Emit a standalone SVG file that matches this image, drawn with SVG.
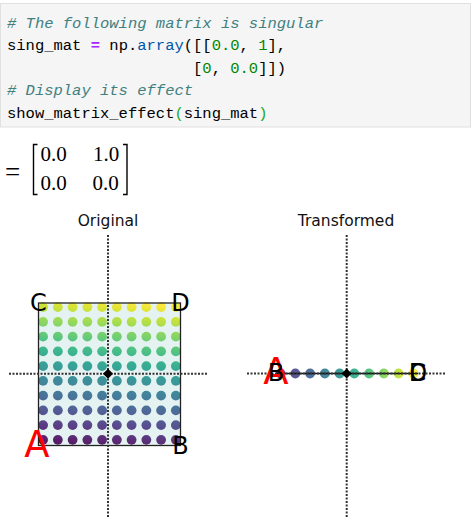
<svg xmlns="http://www.w3.org/2000/svg" width="472" height="532" viewBox="0 0 472 532">
<style>
.code{font-family:"Liberation Mono","DejaVu Sans Mono",monospace;font-size:15.5px;fill:#000;white-space:pre}
.cm{fill:#408080;font-style:italic}
.op{fill:#aa22ff;font-weight:bold}
.pr{fill:#0055aa}
.nu{fill:#008800}
.br{fill:#22aa22}
.math{font-family:"Liberation Serif","Times New Roman",serif;font-size:21px;fill:#000}
.title{font-family:"DejaVu Sans",sans-serif;font-size:15.5px;fill:#111;text-anchor:middle}
.lbl{font-family:"DejaVu Sans",sans-serif;font-size:24px;fill:#000;text-anchor:middle}
.lblA{font-family:"DejaVu Sans",sans-serif;font-size:37px;fill:#ff0000;text-anchor:middle}
.axis{stroke:#333;stroke-width:2;stroke-dasharray:2 1.5;fill:none}
.dotsL circle{fill:url(#virL);opacity:0.88}
.dotsR circle{fill:url(#virR);opacity:0.88}
</style>
<defs>
<linearGradient id="vir">
<stop offset="0" stop-color="#440154"/><stop offset="0.05" stop-color="#471365"/><stop offset="0.1" stop-color="#482475"/><stop offset="0.15" stop-color="#463480"/><stop offset="0.2" stop-color="#414487"/><stop offset="0.25" stop-color="#3b528b"/><stop offset="0.3" stop-color="#355f8d"/><stop offset="0.35" stop-color="#2f6c8e"/><stop offset="0.4" stop-color="#2a788e"/><stop offset="0.45" stop-color="#25848e"/><stop offset="0.5" stop-color="#21918c"/><stop offset="0.55" stop-color="#1e9c89"/><stop offset="0.6" stop-color="#22a884"/><stop offset="0.65" stop-color="#2fb47c"/><stop offset="0.7" stop-color="#44bf70"/><stop offset="0.75" stop-color="#5ec962"/><stop offset="0.8" stop-color="#7ad151"/><stop offset="0.85" stop-color="#9bd93c"/><stop offset="0.9" stop-color="#bddf26"/><stop offset="0.95" stop-color="#dfe318"/><stop offset="1" stop-color="#fde725"/>
</linearGradient>
<linearGradient id="virL" href="#vir" gradientUnits="userSpaceOnUse" x1="43.1" y1="439.85" x2="57.56" y2="295.27"/>
<linearGradient id="virR" href="#vir" gradientUnits="userSpaceOnUse" x1="267.3" y1="0" x2="413.4" y2="0"/>
<path id="dia" d="M0,-5 L5,0 L0,5 L-5,0 Z" fill="#000"/>
</defs>
<rect width="472" height="532" fill="#fff"/>

<g id="code">
<rect x="0.5" y="3.5" width="470" height="123.5" fill="#f5f5f5" stroke="#e0e0e0"/>
<text class="code cm" x="7" y="27.5"># The following matrix is singular</text>
<text class="code" x="7" y="50">sing_mat <tspan class="op">=</tspan> np.<tspan class="pr">array</tspan>([[<tspan class="nu">0.0</tspan>, <tspan class="nu">1</tspan>],</text>
<text class="code" x="193" y="72.5">[<tspan class="nu">0</tspan>, <tspan class="nu">0.0</tspan>]])</text>
<text class="code cm" x="7" y="95"># Display its effect</text>
<text class="code" x="7" y="117.5">show_matrix_effect<tspan class="br">(</tspan>sing_mat<tspan class="br">)</tspan></text>
</g>

<g id="matrix">
<text class="math" x="5" y="180.5" style="font-size:27px">=</text>
<path d="M37.5,144.5 H33.5 V194.5 H37.5 M123,144.5 H127 V194.5 H123" fill="none" stroke="#000" stroke-width="1.4"/>
<text class="math" x="40.5" y="160.5">0.0</text>
<text class="math" x="93" y="160.5">1.0</text>
<text class="math" x="40.5" y="190">0.0</text>
<text class="math" x="92.5" y="190">0.0</text>
</g>

<g id="plot-original">
<text class="title" x="108" y="225.5">Original</text>
<rect x="38.5" y="303" width="142" height="142.5" fill="#e5f2f2"/>
<g class="dotsL">
<circle cx="43.1" cy="307.1" r="4.9"/><circle cx="57.85" cy="307.1" r="4.9"/><circle cx="72.6" cy="307.1" r="4.9"/><circle cx="87.35" cy="307.1" r="4.9"/><circle cx="102.1" cy="307.1" r="4.9"/><circle cx="116.85" cy="307.1" r="4.9"/><circle cx="131.6" cy="307.1" r="4.9"/><circle cx="146.35" cy="307.1" r="4.9"/><circle cx="161.1" cy="307.1" r="4.9"/><circle cx="175.85" cy="307.1" r="4.9"/>
<circle cx="43.1" cy="321.85" r="4.9"/><circle cx="57.85" cy="321.85" r="4.9"/><circle cx="72.6" cy="321.85" r="4.9"/><circle cx="87.35" cy="321.85" r="4.9"/><circle cx="102.1" cy="321.85" r="4.9"/><circle cx="116.85" cy="321.85" r="4.9"/><circle cx="131.6" cy="321.85" r="4.9"/><circle cx="146.35" cy="321.85" r="4.9"/><circle cx="161.1" cy="321.85" r="4.9"/><circle cx="175.85" cy="321.85" r="4.9"/>
<circle cx="43.1" cy="336.6" r="4.9"/><circle cx="57.85" cy="336.6" r="4.9"/><circle cx="72.6" cy="336.6" r="4.9"/><circle cx="87.35" cy="336.6" r="4.9"/><circle cx="102.1" cy="336.6" r="4.9"/><circle cx="116.85" cy="336.6" r="4.9"/><circle cx="131.6" cy="336.6" r="4.9"/><circle cx="146.35" cy="336.6" r="4.9"/><circle cx="161.1" cy="336.6" r="4.9"/><circle cx="175.85" cy="336.6" r="4.9"/>
<circle cx="43.1" cy="351.35" r="4.9"/><circle cx="57.85" cy="351.35" r="4.9"/><circle cx="72.6" cy="351.35" r="4.9"/><circle cx="87.35" cy="351.35" r="4.9"/><circle cx="102.1" cy="351.35" r="4.9"/><circle cx="116.85" cy="351.35" r="4.9"/><circle cx="131.6" cy="351.35" r="4.9"/><circle cx="146.35" cy="351.35" r="4.9"/><circle cx="161.1" cy="351.35" r="4.9"/><circle cx="175.85" cy="351.35" r="4.9"/>
<circle cx="43.1" cy="366.1" r="4.9"/><circle cx="57.85" cy="366.1" r="4.9"/><circle cx="72.6" cy="366.1" r="4.9"/><circle cx="87.35" cy="366.1" r="4.9"/><circle cx="102.1" cy="366.1" r="4.9"/><circle cx="116.85" cy="366.1" r="4.9"/><circle cx="131.6" cy="366.1" r="4.9"/><circle cx="146.35" cy="366.1" r="4.9"/><circle cx="161.1" cy="366.1" r="4.9"/><circle cx="175.85" cy="366.1" r="4.9"/>
<circle cx="43.1" cy="380.85" r="4.9"/><circle cx="57.85" cy="380.85" r="4.9"/><circle cx="72.6" cy="380.85" r="4.9"/><circle cx="87.35" cy="380.85" r="4.9"/><circle cx="102.1" cy="380.85" r="4.9"/><circle cx="116.85" cy="380.85" r="4.9"/><circle cx="131.6" cy="380.85" r="4.9"/><circle cx="146.35" cy="380.85" r="4.9"/><circle cx="161.1" cy="380.85" r="4.9"/><circle cx="175.85" cy="380.85" r="4.9"/>
<circle cx="43.1" cy="395.6" r="4.9"/><circle cx="57.85" cy="395.6" r="4.9"/><circle cx="72.6" cy="395.6" r="4.9"/><circle cx="87.35" cy="395.6" r="4.9"/><circle cx="102.1" cy="395.6" r="4.9"/><circle cx="116.85" cy="395.6" r="4.9"/><circle cx="131.6" cy="395.6" r="4.9"/><circle cx="146.35" cy="395.6" r="4.9"/><circle cx="161.1" cy="395.6" r="4.9"/><circle cx="175.85" cy="395.6" r="4.9"/>
<circle cx="43.1" cy="410.35" r="4.9"/><circle cx="57.85" cy="410.35" r="4.9"/><circle cx="72.6" cy="410.35" r="4.9"/><circle cx="87.35" cy="410.35" r="4.9"/><circle cx="102.1" cy="410.35" r="4.9"/><circle cx="116.85" cy="410.35" r="4.9"/><circle cx="131.6" cy="410.35" r="4.9"/><circle cx="146.35" cy="410.35" r="4.9"/><circle cx="161.1" cy="410.35" r="4.9"/><circle cx="175.85" cy="410.35" r="4.9"/>
<circle cx="43.1" cy="425.1" r="4.9"/><circle cx="57.85" cy="425.1" r="4.9"/><circle cx="72.6" cy="425.1" r="4.9"/><circle cx="87.35" cy="425.1" r="4.9"/><circle cx="102.1" cy="425.1" r="4.9"/><circle cx="116.85" cy="425.1" r="4.9"/><circle cx="131.6" cy="425.1" r="4.9"/><circle cx="146.35" cy="425.1" r="4.9"/><circle cx="161.1" cy="425.1" r="4.9"/><circle cx="175.85" cy="425.1" r="4.9"/>
<circle cx="43.1" cy="439.85" r="4.9"/><circle cx="57.85" cy="439.85" r="4.9"/><circle cx="72.6" cy="439.85" r="4.9"/><circle cx="87.35" cy="439.85" r="4.9"/><circle cx="102.1" cy="439.85" r="4.9"/><circle cx="116.85" cy="439.85" r="4.9"/><circle cx="131.6" cy="439.85" r="4.9"/><circle cx="146.35" cy="439.85" r="4.9"/><circle cx="161.1" cy="439.85" r="4.9"/><circle cx="175.85" cy="439.85" r="4.9"/>
</g>
<rect x="38.5" y="303" width="142" height="142.5" fill="none" stroke="#222" stroke-width="1.3"/>
<line class="axis" x1="9" y1="373.8" x2="207" y2="373.8"/>
<line class="axis" x1="108" y1="235" x2="108" y2="517"/>
<use href="#dia" x="108" y="373.8"/>
<text class="lblA" x="37" y="457">A</text>
<text class="lbl" x="180.5" y="453.5">B</text>
<text class="lbl" x="38.5" y="311">C</text>
<text class="lbl" x="180.5" y="311">D</text>
</g>

<g id="plot-transformed">
<text class="title" x="346" y="225.5">Transformed</text>
<g class="dotsR">
<circle cx="280.6" cy="373.5" r="4.9"/><circle cx="295.35" cy="373.5" r="4.9"/><circle cx="310.1" cy="373.5" r="4.9"/><circle cx="324.85" cy="373.5" r="4.9"/><circle cx="339.6" cy="373.5" r="4.9"/><circle cx="354.35" cy="373.5" r="4.9"/><circle cx="369.1" cy="373.5" r="4.9"/><circle cx="383.85" cy="373.5" r="4.9"/><circle cx="398.6" cy="373.5" r="4.9"/><circle cx="413.35" cy="373.5" r="4.9"/>
</g>
<line x1="276" y1="373.5" x2="418" y2="373.5" stroke="#111" stroke-width="1.5"/>
<line class="axis" x1="247" y1="373.5" x2="445" y2="373.5"/>
<line class="axis" x1="346.7" y1="235" x2="346.7" y2="517"/>
<use href="#dia" x="346.7" y="373.5"/>
<text class="lblA" x="276" y="383.5">A</text>
<text class="lbl" x="276" y="381">B</text>
<text class="lbl" x="418" y="381">C</text>
<text class="lbl" x="418" y="381">D</text>
</g>
</svg>
